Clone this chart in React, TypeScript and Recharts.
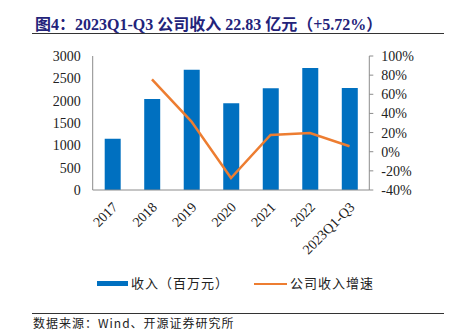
import { ComposedChart, Bar, Line, XAxis, YAxis, Legend } from "recharts";

const categories = ["2017", "2018", "2019", "2020", "2021", "2022", "2023Q1-Q3"];
const revenue = [1150, 2040, 2690, 1940, 2280, 2730, 2283];
const growth = [null, 75.5, 31.5, -27.5, 17.5, 19.5, 5.72];

const leftTicks = [0, 500, 1000, 1500, 2000, 2500, 3000];
const rightTicks = [-40, -20, 0, 20, 40, 60, 80, 100];
const edgeTicks = [0, 1, 2, 3, 4, 5, 6, 7];

const data = categories.map((name, i) => ({ name, revenue: revenue[i], growth: growth[i] }));

const FONT = '"Liberation Serif", "Times New Roman", "Noto Sans CJK SC", serif';
const CJK = '"Noto Sans CJK SC", "Liberation Serif", serif';
const AXIS = "#8c8c8c";
const BLUE = "#0070c0";
const ORANGE = "#ed7d31";

const XTick = ({ x, y, payload }: any) => (
  <text
    x={x + 6}
    y={y + 10}
    transform={`rotate(-45 ${x + 6} ${y + 10})`}
    textAnchor="end"
    fontSize={14}
    fontFamily={FONT}
    fill="#222"
  >
    {payload.value}
  </text>
);

const renderLegend = () => (
  <div style={{ position: "relative", height: 20, fontFamily: CJK, fontSize: 13, color: "#222", lineHeight: "20px" }}>
    <div style={{ position: "absolute", left: 97, top: 8, width: 31, height: 5, background: BLUE }} />
    <span style={{ position: "absolute", left: 131, top: 0, letterSpacing: 1 }}>收入（百万元）</span>
    <div style={{ position: "absolute", left: 254, top: 9.5, width: 33, height: 2.5, background: ORANGE }} />
    <span style={{ position: "absolute", left: 290, top: 0, letterSpacing: 1 }}>公司收入增速</span>
  </div>
);

export default function App() {
  return (
    <div style={{ position: "absolute", left: 0, top: 0, width: 450, height: 332, background: "#fff", overflow: "hidden" }}>
      <div
        style={{
          position: "absolute",
          left: 35,
          top: 11,
          fontFamily: FONT,
          fontWeight: "bold",
          fontSize: 16,
          color: "#23237a",
          whiteSpace: "nowrap",
        }}
      >
        图4：2023Q1-Q3 公司收入 22.83 亿元（+5.72%）
      </div>
      <div style={{ position: "absolute", left: 32, top: 33, width: 412, height: 1, background: "#333" }} />

      <ComposedChart
        width={450}
        height={332}
        data={data}
        margin={{ top: 56, left: 32.7, right: 20.7, bottom: 82 }}
        style={{ position: "absolute", left: 0, top: 0 }}
      >
        <XAxis
          dataKey="name"
          height={60}
          interval={0}
          axisLine={{ stroke: AXIS }}
          tickLine={false}
          tick={<XTick />}
        />
        <XAxis
          xAxisId="edge"
          type="number"
          domain={[0, 7]}
          ticks={edgeTicks}
          interval={0}
          mirror
          height={0}
          axisLine={false}
          tickSize={4}
          tickLine={{ stroke: AXIS }}
          tickFormatter={() => ""}
        />
        <YAxis
          yAxisId="left"
          width={60}
          domain={[0, 3000]}
          ticks={leftTicks}
          interval={0}
          axisLine={{ stroke: AXIS }}
          tickLine={false}
          tickSize={0}
          tickMargin={12}
          tick={{ fontSize: 14, fontFamily: FONT, fill: "#222" }}
        />
        <YAxis
          yAxisId="leftEdge"
          mirror
          width={0}
          domain={[0, 3000]}
          ticks={leftTicks}
          interval={0}
          axisLine={false}
          tickSize={4}
          tickLine={{ stroke: AXIS }}
          tickFormatter={() => ""}
        />
        <YAxis
          yAxisId="right"
          orientation="right"
          width={60}
          domain={[-40, 100]}
          ticks={rightTicks}
          interval={0}
          axisLine={{ stroke: AXIS }}
          tickLine={{ stroke: AXIS }}
          tickSize={4}
          tickMargin={8}
          tickFormatter={(v: number) => `${v}%`}
          tick={{ fontSize: 14, fontFamily: FONT, fill: "#222", textAnchor: "start" }}
        />
        <Legend
          verticalAlign="middle"
          layout="horizontal"
          wrapperStyle={{ top: 273, left: 0, width: 450 }}
          content={renderLegend}
        />
        <Bar yAxisId="left" dataKey="revenue" fill={BLUE} barSize={16} isAnimationActive={false} />
        <Line
          yAxisId="right"
          dataKey="growth"
          stroke={ORANGE}
          strokeWidth={2.5}
          dot={false}
          activeDot={false}
          isAnimationActive={false}
        />
      </ComposedChart>

      <div style={{ position: "absolute", left: 32, top: 313, width: 412, height: 1, background: "#333" }} />
      <div
        style={{
          position: "absolute",
          left: 33,
          top: 316,
          fontFamily: CJK,
          fontSize: 12,
          lineHeight: "14px",
          color: "#222",
          whiteSpace: "nowrap",
          letterSpacing: 1,
        }}
      >
        数据来源：Wind、开源证券研究所
      </div>
    </div>
  );
}
